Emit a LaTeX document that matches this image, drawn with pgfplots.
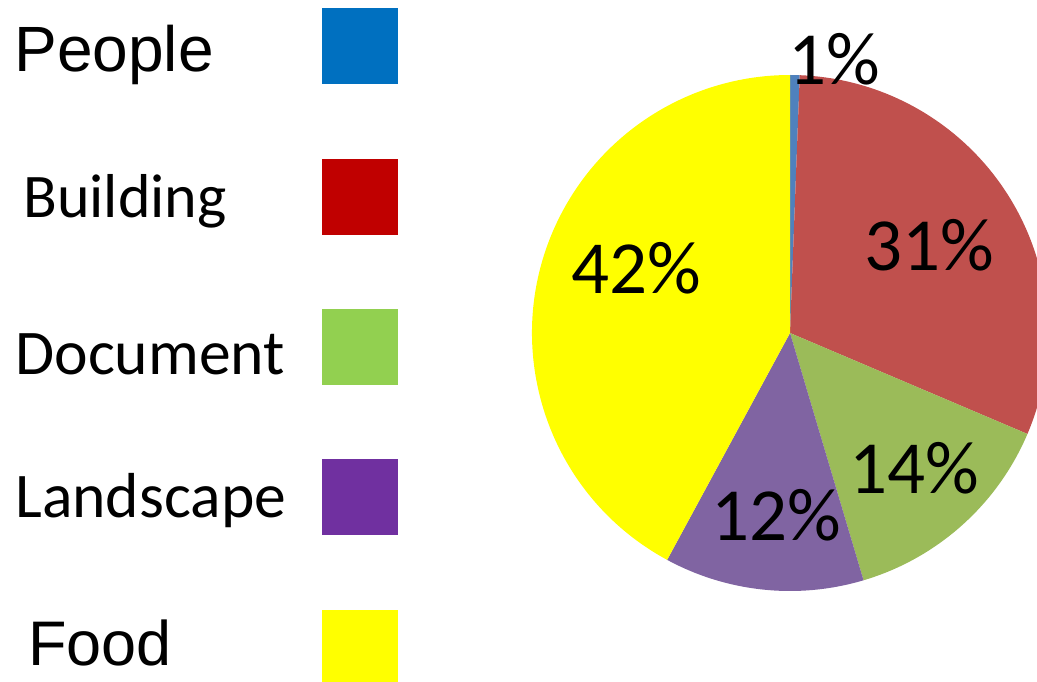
\documentclass[border=0pt]{standalone}
\usepackage{pgfplots}
\usepackage{pgfplotstable}
\usepackage{fontspec}
\pgfplotsset{compat=1.18}
\newfontfamily\arial{Liberation Sans}
\newfontfamily\calibri{Carlito}

% slice colours (pie) and key colours (legend squares)
\definecolor{s0}{HTML}{4F81BD}
\definecolor{s1}{HTML}{C0504D}
\definecolor{s2}{HTML}{9BBB59}
\definecolor{s3}{HTML}{8064A2}
\definecolor{s4}{HTML}{FFFF00}
\definecolor{k0}{HTML}{0070C0}
\definecolor{k1}{HTML}{C00000}
\definecolor{k2}{HTML}{92D050}
\definecolor{k3}{HTML}{7030A0}
\definecolor{k4}{HTML}{FFFF00}

\pgfplotstableread{
label value
People 0.6
Building 30.8
Document 14.0
Landscape 12.5
Food 42.1
}\piedata

\begin{document}
\begin{tikzpicture}
% start and end angle of every slice, clockwise from the top
\def\cum{90}
\foreach \i in {0,...,4}{
  \pgfplotstablegetelem{\i}{value}\of\piedata
  \pgfmathsetmacro{\e}{\cum-3.6*\pgfplotsretval}
  \expandafter\xdef\csname sa\i\endcsname{\cum}
  \expandafter\xdef\csname ea\i\endcsname{\e}
  \xdef\cum{\e}
}
\begin{axis}[
  x=0.5pt, y=0.5pt,
  xmin=0, xmax=1037, ymin=0, ymax=681,
  hide axis,
  clip=true,
]
\pgfplotsinvokeforeach{0,...,4}{
  \fill[s#1] (axis cs:790,348) -- ++(\csname sa#1\endcsname:129pt)
    arc[start angle=\csname sa#1\endcsname, end angle=\csname ea#1\endcsname, radius=129pt] -- cycle;
}
% percentage labels
\begin{scope}[every node/.style={inner sep=0pt, anchor=base, font=\calibri\fontsize{37.5}{40}\selectfont}]
\node at (axis cs:834,596) {1\%};
\node at (axis cs:929,410) {31\%};
\node at (axis cs:914,188) {14\%};
\node at (axis cs:776,141) {12\%};
\node at (axis cs:636,388) {42\%};
\end{scope}
% legend
\fill[k0] (axis cs:322,597) rectangle (axis cs:398,673);
\fill[k1] (axis cs:322,446) rectangle (axis cs:398,522);
\fill[k2] (axis cs:322,296) rectangle (axis cs:398,372);
\fill[k3] (axis cs:322,146) rectangle (axis cs:398,222);
\fill[k4] (axis cs:322,-5) rectangle (axis cs:398,71);
\begin{scope}[every node/.style={inner sep=0pt, anchor=base west}]
\node[font=\arial\fontsize{32}{36}\selectfont] at (axis cs:14,609) {People};
\node[font=\calibri\fontsize{31}{34}\selectfont] at (axis cs:23,463) {Building};
\node[font=\calibri\fontsize{31.8}{34}\selectfont] at (axis cs:15,307) {Document};
\node[font=\calibri\fontsize{31.8}{34}\selectfont] at (axis cs:15,164) {Landscape};
\node[font=\arial\fontsize{31.5}{34}\selectfont] at (axis cs:28,16) {Food};
\end{scope}
\end{axis}
\pgfresetboundingbox
\path (current axis.south west) rectangle (current axis.north east);
\end{tikzpicture}
\end{document}
